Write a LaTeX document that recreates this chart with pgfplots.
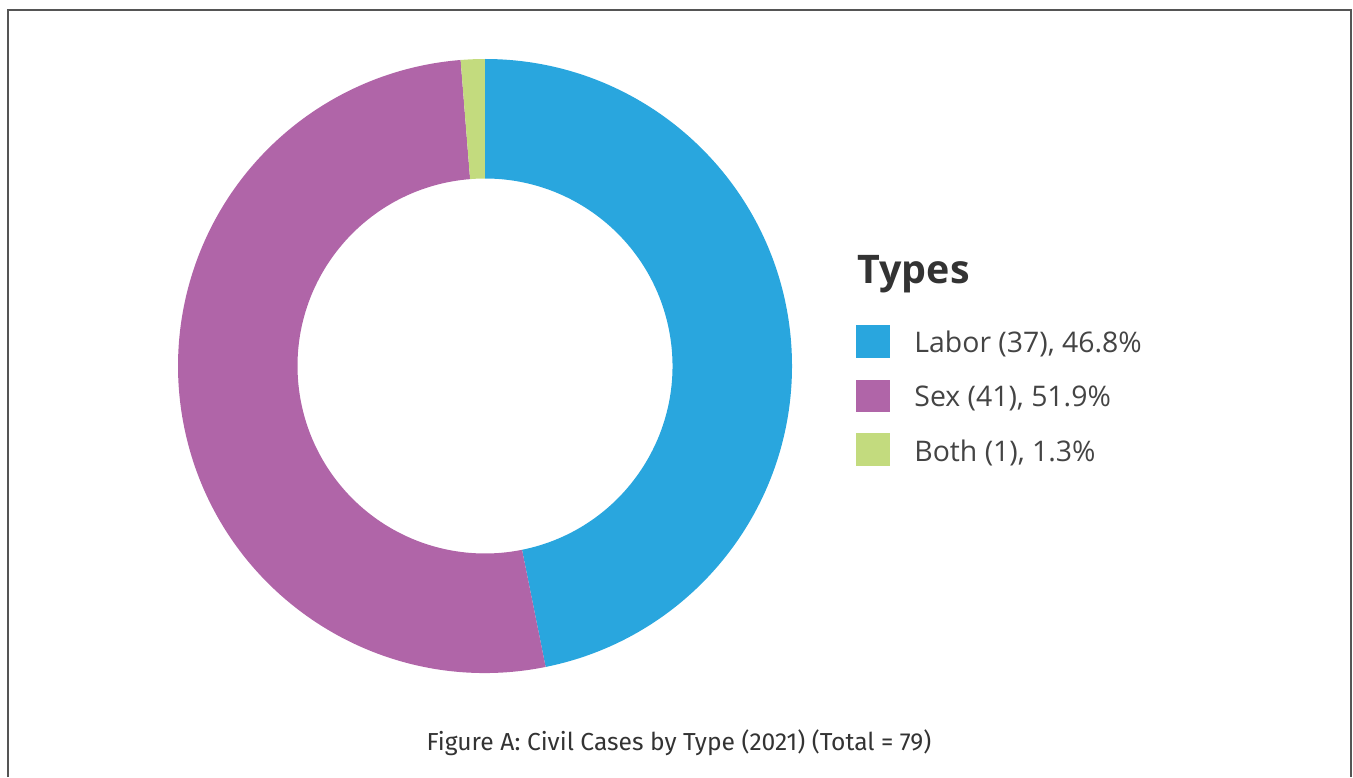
\documentclass[border=0pt]{standalone}
\usepackage{pgfplots}
\pgfplotsset{compat=1.18}
\usepackage{fontspec}
\setmainfont{Open Sans}
\newfontfamily\capfont[Numbers=Lining]{Fira Sans}
\definecolor{laborc}{HTML}{29A6DE}
\definecolor{sexc}{HTML}{B065A8}
\definecolor{bothc}{HTML}{C3DB7E}
\definecolor{framec}{HTML}{555555}
\definecolor{txtc}{HTML}{444444}
\definecolor{titlec}{HTML}{333333}
% data
\def\nLabor{37}
\def\nSex{41}
\def\nBoth{1}
\pgfmathsetmacro\total{\nLabor+\nSex+\nBoth}
\pgfmathsetmacro\aA{90}
\pgfmathsetmacro\aB{\aA-\nLabor/\total*360}
\pgfmathsetmacro\aC{\aB-\nSex/\total*360}
\pgfmathsetmacro\aD{\aC-\nBoth/\total*360}
\def\Ro{153.5pt}
\def\Ri{93.75pt}
\begin{document}
\begin{tikzpicture}
\begin{axis}[
  width=676.5pt, height=388.5pt, scale only axis,
  xmin=0, xmax=1353, ymin=0, ymax=777,
  hide axis, clip=false,
]
\addplot[draw=none, forget plot] coordinates {(0,0) (1353,777)};
% donut slices
\fill[laborc] ([shift={(\aA:\Ro)}]axis cs:485,411) arc[start angle=\aA, end angle=\aB, radius=\Ro]
  -- ([shift={(\aB:\Ri)}]axis cs:485,411) arc[start angle=\aB, end angle=\aA, radius=\Ri] -- cycle;
\fill[sexc] ([shift={(\aB:\Ro)}]axis cs:485,411) arc[start angle=\aB, end angle=\aC, radius=\Ro]
  -- ([shift={(\aC:\Ri)}]axis cs:485,411) arc[start angle=\aC, end angle=\aB, radius=\Ri] -- cycle;
\fill[bothc] ([shift={(\aC:\Ro)}]axis cs:485,411) arc[start angle=\aC, end angle=\aD, radius=\Ro]
  -- ([shift={(\aD:\Ri)}]axis cs:485,411) arc[start angle=\aD, end angle=\aC, radius=\Ri] -- cycle;
% frame
\draw[framec, line width=0.8pt] (axis cs:8,0) -- (axis cs:8,767) -- (axis cs:1351,767) -- (axis cs:1351,0);
% legend
\node[anchor=base west, inner sep=0pt, text=titlec, font=\fontsize{19.7}{22}\selectfont\bfseries] at (axis cs:857,494) {Types};
\fill[laborc] (axis cs:856,419) rectangle (axis cs:890,452);
\fill[sexc] (axis cs:856,365) rectangle (axis cs:890,397);
\fill[bothc] (axis cs:856,311) rectangle (axis cs:890,344);
\node[anchor=base west, inner sep=0pt, text=txtc, font=\fontsize{14.2}{16}\selectfont] at (axis cs:914,425) {Labor (37), 46.8\%};
\node[anchor=base west, inner sep=0pt, text=txtc, font=\fontsize{14.2}{16}\selectfont] at (axis cs:914,371) {Sex (41), 51.9\%};
\node[anchor=base west, inner sep=0pt, text=txtc, font=\fontsize{14.2}{16}\selectfont] at (axis cs:914,316) {Both (1), 1.3\%};
% caption
\node[anchor=base, inner sep=0pt, text=titlec, font=\capfont\fontsize{12.3}{14}\selectfont] at (axis cs:679,26.3) {Figure A: Civil Cases by Type (2021) (Total = 79)};
\end{axis}
\end{tikzpicture}
\end{document}
